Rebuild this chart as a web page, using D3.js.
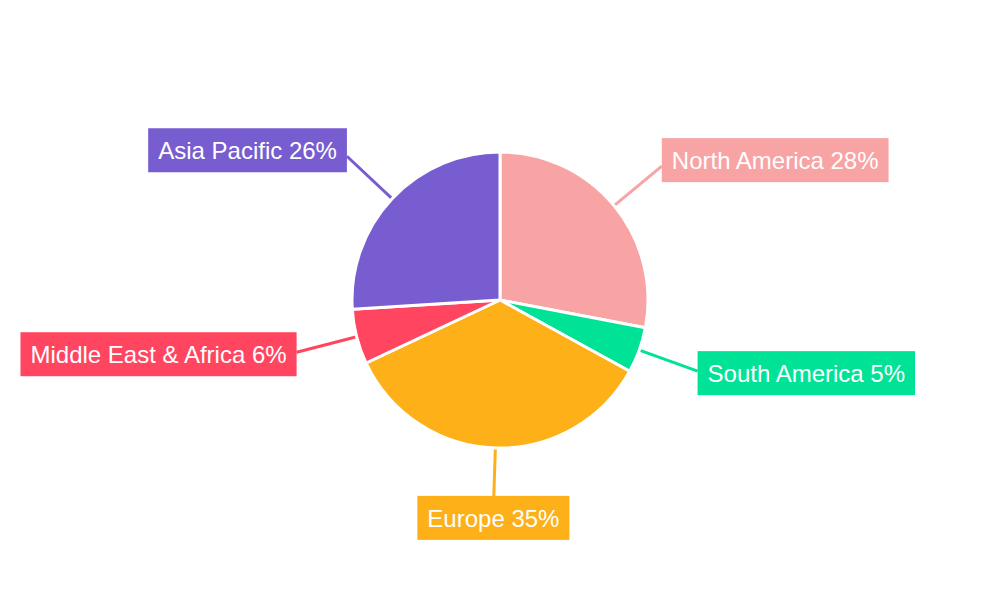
<!DOCTYPE html>
<html><head><meta charset="utf-8">
<script src="https://cdn.jsdelivr.net/npm/d3@7"></script>
<style>body{margin:0;background:#fff}svg{display:block}</style>
</head><body>
<svg id="chart" width="1000" height="600"></svg>
<script>
const categories = ["North America", "South America", "Europe", "Middle East & Africa", "Asia Pacific"];
const values = [28, 5, 35, 6, 26];
const colors = ["#F8A3A4", "#00E396", "#FEB019", "#FF4560", "#775DD0"];

const svg = d3.select("#chart");
const cx = 500, cy = 300, R = 148, lineEnd = 210;
const g = svg.append("g").attr("transform", `translate(${cx},${cy})`);
const data = categories.map((c, i) => ({name: c, value: values[i], color: colors[i]}));
const pie = d3.pie().value(d => d.value).sort(null);
const arcs = pie(data);
const arc = d3.arc().innerRadius(0).outerRadius(R);

// leader lines
arcs.forEach(a => {
  const m = (a.startAngle + a.endAngle) / 2;
  const s = Math.sin(m), c = -Math.cos(m);
  g.append("line")
    .attr("x1", s * (R - 5)).attr("y1", c * (R - 5))
    .attr("x2", s * lineEnd).attr("y2", c * lineEnd)
    .attr("stroke", a.data.color).attr("stroke-width", 3);
});

g.selectAll("path.slice").data(arcs).enter().append("path")
  .attr("class", "slice")
  .attr("d", arc)
  .attr("fill", d => d.data.color)
  .attr("stroke", "#fff").attr("stroke-width", 3).attr("stroke-linejoin", "round");

// labels
arcs.forEach(a => {
  const m = (a.startAngle + a.endAngle) / 2;
  const s = Math.sin(m), c = -Math.cos(m);
  const ex = s * lineEnd, ey = c * lineEnd;
  const lg = g.append("g");
  const t = lg.append("text").text(`${a.data.name} ${a.data.value}%`)
    .attr("font-family", "Liberation Sans, Arial, sans-serif")
    .attr("font-size", 24).attr("fill", "#fff");
  const w = t.node().getComputedTextLength();
  const pad = 10, h = 44;
  let bx, by;
  if (Math.abs(s) < 0.3) { bx = ex - (w + 2 * pad) / 2; by = c > 0 ? ey - 14 : ey - h + 14; }
  else {
    bx = s > 0 ? ex : ex - (w + 2 * pad);
    by = ey - h / 2 + (c < 0 ? -6 : 2);
  }
  lg.insert("rect", "text").attr("x", bx).attr("y", by)
    .attr("width", w + 2 * pad).attr("height", h).attr("fill", a.data.color);
  t.attr("x", bx + pad).attr("y", by + h / 2).attr("dy", "0.36em");
});
</script>
</body></html>
